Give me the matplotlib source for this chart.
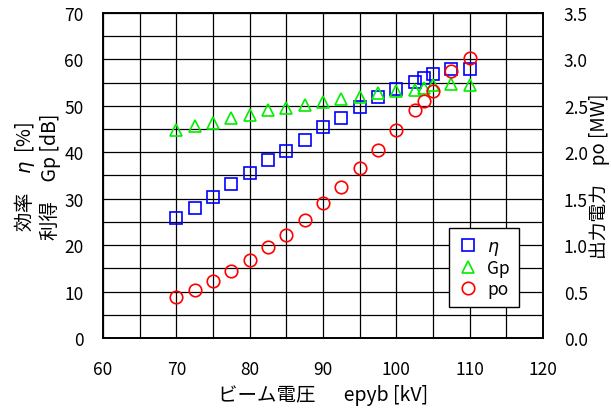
import numpy as np
import matplotlib
matplotlib.use('Agg')
import matplotlib.pyplot as plt

plt.rcParams['font.family'] = ['Noto Sans CJK JP', 'DejaVu Sans']
plt.rcParams['mathtext.fontset'] = 'dejavusans'

# beam voltage [kV]
epyb = [70, 72.5, 75, 77.5, 80, 82.5, 85, 87.5, 90, 92.5, 95, 97.5, 100,
        102.5, 103.8, 105, 107.5, 110]
# efficiency [%]
eta = [25.8, 28.1, 30.4, 33.2, 35.5, 38.3, 40.2, 42.6, 45.4, 47.4, 49.7, 51.8,
       53.6, 55.2, 55.9, 56.9, 57.9, 57.9]
# gain [dB]
gp = [44.9, 45.7, 46.4, 47.4, 48.0, 49.0, 49.5, 50.2, 50.9, 51.5, 52.0, 52.8,
      53.3, 53.5, 53.8, 54.4, 54.7, 54.5]
# output power [MW]
po = [0.44, 0.52, 0.61, 0.72, 0.84, 0.98, 1.11, 1.27, 1.45, 1.63, 1.83, 2.02,
      2.24, 2.45, 2.55, 2.66, 2.87, 3.02]

fig = plt.figure(figsize=(6.11, 4.10), dpi=100)
ax = fig.add_axes([0.1686, 0.1732, 0.7201, 0.7927])
ax2 = ax.twinx()

ax.set_xlim(60, 120)
ax.set_ylim(0, 70)
ax2.set_ylim(0, 3.5)
ax.set_xticks(np.arange(60, 121, 10))
ax.set_xticks(np.arange(60, 121, 5), minor=True)
ax.set_yticks(np.arange(0, 71, 10))
ax.set_yticks(np.arange(0, 71, 5), minor=True)
ax2.set_yticks(np.arange(0, 3.51, 0.5))
ax2.set_yticklabels(['%.1f' % v for v in np.arange(0, 3.51, 0.5)])

ax.grid(True, which='both', color='black', linewidth=0.9)
ax.set_axisbelow(True)
ax.tick_params(which='both', length=0, labelsize=12.5)
ax.tick_params(axis='y', pad=14)
ax.tick_params(axis='x', pad=16)
ax2.tick_params(which='both', length=0, labelsize=12.5, pad=15)
for a in (ax, ax2):
    for s in a.spines.values():
        s.set_linewidth(1.2)

mk = dict(linestyle='none', markersize=9, markerfacecolor='none', markeredgewidth=1.2)
h1, = ax.plot(epyb, eta, marker='s', color='#0000ff', label=r'$\eta$', **mk)
h2, = ax.plot(epyb, gp, marker='^', color='#00ee00', label='Gp', **mk)
h3, = ax2.plot(epyb, po, marker='o', color='#ff0000', label='po', **mk)

ax.set_xlabel('ビーム電圧　  epyb [kV]', fontsize=14, labelpad=4)
ax.set_ylabel('効率　$\\eta$  [%]\n利得　Gp [dB]', fontsize=14, labelpad=2,
              linespacing=1.15)
ax2.set_ylabel('出力電力　po [MW]', fontsize=13.5, labelpad=1)

leg = ax2.legend(handles=[h1, h2, h3], loc='upper right',
                 bbox_to_anchor=(0.945, 0.338), borderaxespad=0,
                 fancybox=False, edgecolor='black', framealpha=1,
                 fontsize=12.5, handletextpad=0.5, handlelength=1.2,
                 borderpad=0.5, labelspacing=0.15)
leg.get_frame().set_linewidth(1.0)

fig.savefig('out.png', dpi=100)
